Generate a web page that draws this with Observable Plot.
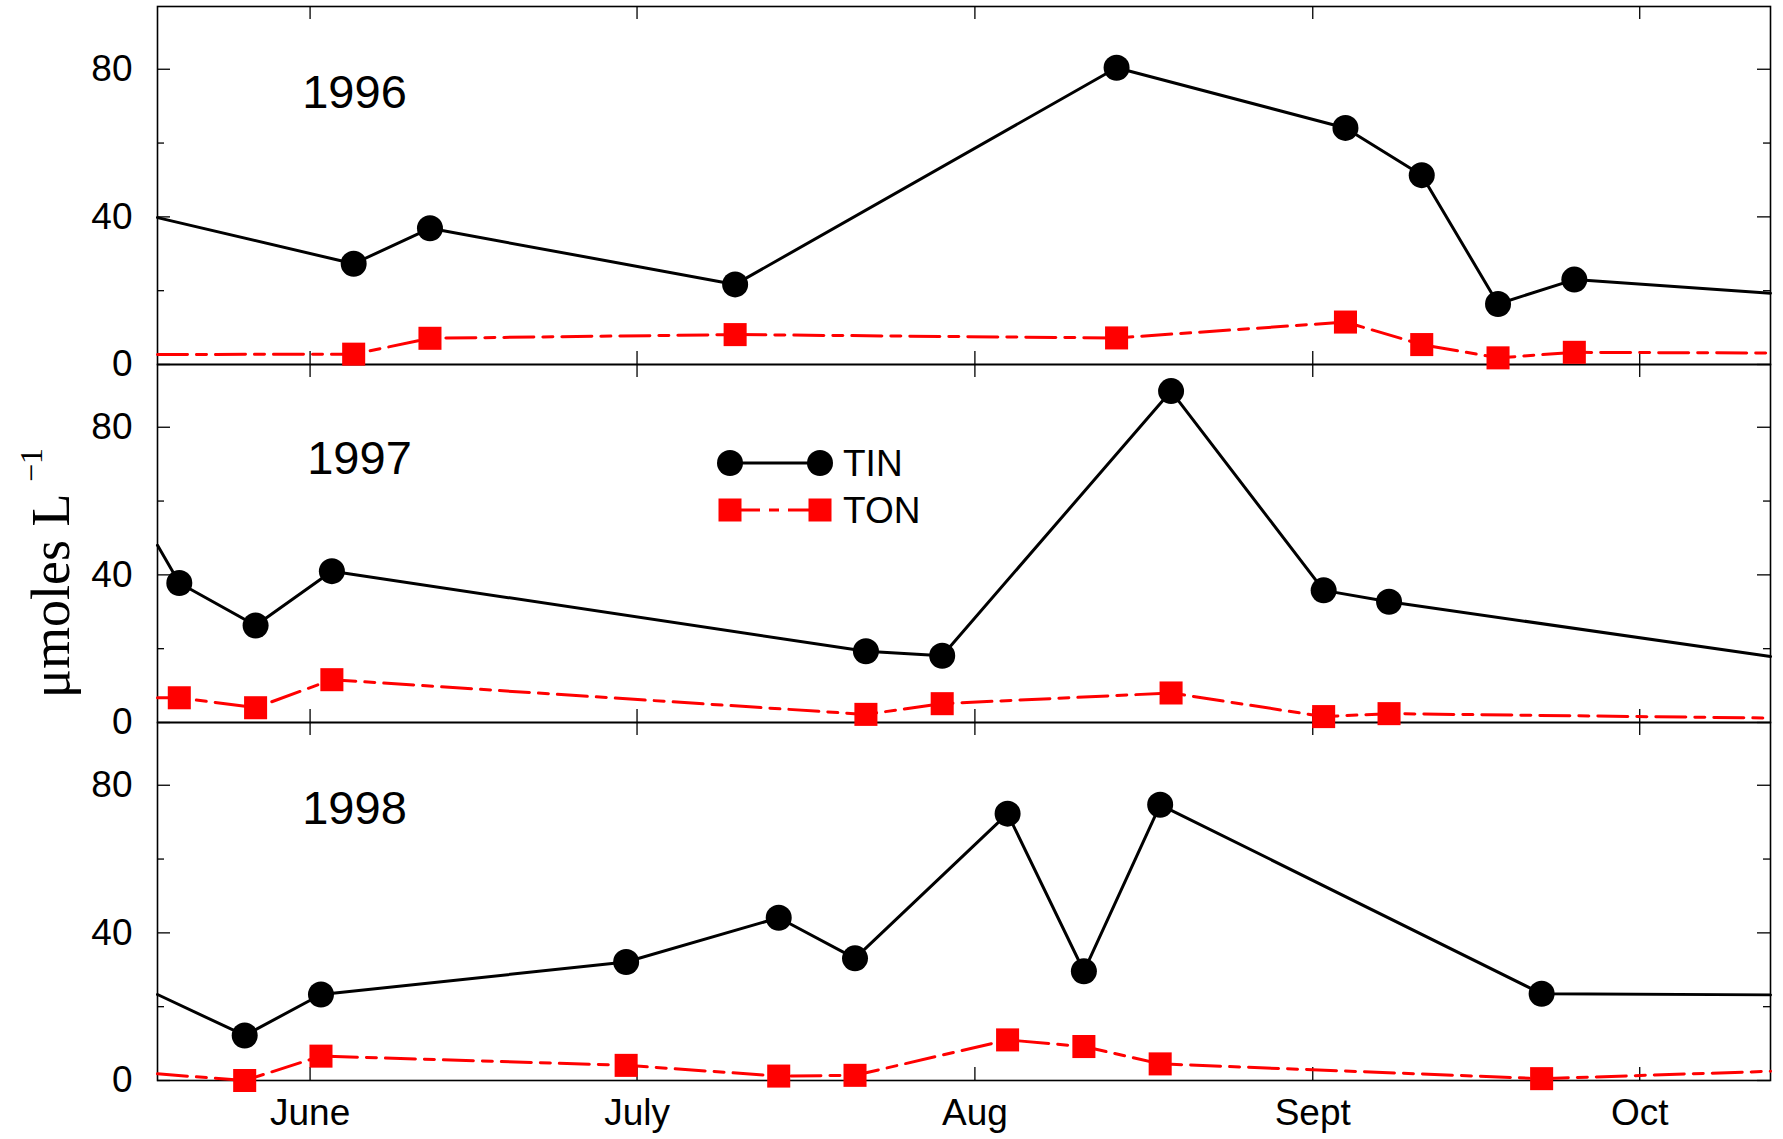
<!DOCTYPE html>
<html>
<head>
<meta charset="utf-8">
<script src="https://cdn.jsdelivr.net/npm/d3@7"></script>
<script src="https://cdn.jsdelivr.net/npm/@observablehq/plot@0.6"></script>
<style>
  body { margin: 0; background: #fff; }
  #chart { position: relative; width: 1783px; height: 1139px; }
</style>
</head>
<body>
<div id="chart"></div>
<script>
// ---------- data ----------
const years = [1996, 1997, 1998];
const monthTicks = ["06-01", "07-01", "08-01", "09-01", "10-01"];
const monthLabels = ["June", "July", "Aug", "Sept", "Oct"];
const yMajorTicks = [0, 40, 80];
const yMinorTicks = [20, 60];
const xStart = "05-18";
const xEnd = "10-13";

// 1996 (first/last entries: where the lines meet the frame edges)
const dates1996 = [xStart, "06-05", "06-12", "07-10", "08-14", "09-04", "09-11", "09-18", "09-25", xEnd];
const tin1996   = [39.8, 27.3, 36.9, 21.7, 80.4, 64.1, 51.3, 16.4, 23.0, 19.3];
const ton1996   = [2.7, 2.8, 7.1, 8.1, 7.2, 11.5, 5.4, 1.8, 3.3, 3.1];

// 1997
const dates1997 = [xStart, "05-20", "05-27", "06-03", "07-22", "07-29", "08-19", "09-02", "09-08", xEnd];
const tin1997   = [48.0, 37.8, 26.3, 41.0, 19.3, 18.1, 89.8, 35.8, 32.7, 17.9];
const ton1997   = [6.7, 6.7, 4.0, 11.6, 2.2, 5.1, 8.0, 1.6, 2.4, 1.2];

// 1998
const dates1998 = [xStart, "05-26", "06-02", "06-30", "07-14", "07-21", "08-04", "08-11", "08-18", "09-22", xEnd];
const tin1998   = [23.3, 12.2, 23.3, 32.1, 44.1, 33.1, 72.3, 29.6, 74.7, 23.5, 23.2];
const ton1998   = [1.8, 0.0, 6.6, 4.1, 1.2, 1.4, 11.0, 9.2, 4.5, 0.5, 2.5];

const seriesNames = ["TIN", "TON"];
const yTitle = "μmoles L";
const yTitleSup = "−1";

// ---------- table ----------
const parse = s => new Date(`2001-${s}T00:00:00Z`);
function rows(year, dates, tin, ton) {
  return dates.map((d, i) => ({
    year, date: parse(d), TIN: tin[i], TON: ton[i], edge: d === xStart || d === xEnd
  }));
}
const data = [
  ...rows(1996, dates1996, tin1996, ton1996),
  ...rows(1997, dates1997, tin1997, ton1997),
  ...rows(1998, dates1998, tin1998, ton1998)
];
const pts = data.filter(d => !d.edge);
const monthDates = monthTicks.map(parse);
const monthLabelMap = new Map(monthDates.map((d, i) => [d.getTime(), monthLabels[i]]));

// ---------- layout ----------
const W = 1783, H = 1139;
const mL = 157, mR = 13, mT = 6, mB = 59;
const frameW = W - mL - mR;
const panelH = (H - mT - mB) / years.length;
const majorLen = 13, minorLen = 7;
const RED = "#ff0000";
const sans = "'Liberation Sans', Arial, Helvetica, sans-serif";
const serif = "'Liberation Serif', 'Times New Roman', serif";

const tickStyle = { stroke: "black", strokeWidth: 1.3 };

const chart = Plot.plot({
  width: W,
  height: H,
  marginLeft: mL,
  marginRight: mR,
  marginTop: mT,
  marginBottom: mB,
  style: { fontFamily: sans, background: "white", color: "black" },
  x: { type: "utc", domain: [parse(xStart), parse(xEnd)] },
  y: { domain: [0, 97] },
  fy: { domain: years, padding: 0, axis: null },
  marks: [
    // inward ticks
    Plot.tickX(monthDates, { x: d => d, insetTop: panelH - majorLen, ...tickStyle }),
    Plot.tickX(monthDates, { x: d => d, insetBottom: panelH - majorLen, ...tickStyle }),
    Plot.tickY(yMajorTicks, { y: d => d, insetRight: frameW - majorLen, ...tickStyle }),
    Plot.tickY(yMajorTicks, { y: d => d, insetLeft: frameW - majorLen, ...tickStyle }),
    Plot.tickY(yMinorTicks, { y: d => d, insetRight: frameW - minorLen, ...tickStyle }),
    Plot.tickY(yMinorTicks, { y: d => d, insetLeft: frameW - minorLen, ...tickStyle }),
    Plot.frame({ stroke: "black", strokeWidth: 1.6 }),
    Plot.axisY({ ticks: yMajorTicks, tickSize: 0, tickPadding: 25, fontSize: 37, label: null }),
    Plot.axisX({
      ticks: monthDates, tickFormat: d => monthLabelMap.get(d.getTime()),
      tickSize: 0, tickPadding: 18, fontSize: 37, label: null
    }),
    // TON
    Plot.lineY(data, { x: "date", y: "TON", fy: "year", stroke: RED, strokeWidth: 3, strokeDasharray: "30,9,10,9" }),
    Plot.dot(pts, { x: "date", y: "TON", fy: "year", symbol: "square", r: 13, fill: RED }),
    // TIN
    Plot.lineY(data, { x: "date", y: "TIN", fy: "year", stroke: "black", strokeWidth: 3 }),
    Plot.dot(pts, { x: "date", y: "TIN", fy: "year", r: 13, fill: "black" }),
    // year labels
    Plot.text(years.filter(y => y !== 1997), {
      fy: d => d, text: d => String(d), frameAnchor: "top-left", dx: 197, dy: 86,
      textAnchor: "middle", lineAnchor: "middle", fontSize: 47, fill: "black"
    }),
    Plot.text(years.filter(y => y === 1997), {
      fy: d => d, text: d => String(d), frameAnchor: "top-left", dx: 202, dy: 94,
      textAnchor: "middle", lineAnchor: "middle", fontSize: 47, fill: "black"
    })
  ]
});

document.getElementById("chart").appendChild(chart);

// ---------- y title ----------
const svg = d3.select(chart);
const yl = svg.append("text")
  .attr("transform", "translate(69,573) rotate(-90)")
  .attr("text-anchor", "middle")
  .attr("font-family", serif)
  .attr("font-size", 54)
  .attr("fill", "black");
yl.append("tspan").text(yTitle + " ");
yl.append("tspan").attr("dy", -27).attr("font-size", 32).text(yTitleSup);

// ---------- legend ----------
const lg = svg.append("g");
const lx1 = 730, lx2 = 820, ly1 = 463, ly2 = 510, side = 23;
lg.append("line").attr("x1", lx1).attr("x2", lx2).attr("y1", ly1).attr("y2", ly1)
  .attr("stroke", "black").attr("stroke-width", 3);
[lx1, lx2].forEach(x => lg.append("circle").attr("cx", x).attr("cy", ly1).attr("r", 13).attr("fill", "black"));
lg.append("line").attr("x1", lx1).attr("x2", lx2).attr("y1", ly2).attr("y2", ly2)
  .attr("stroke", RED).attr("stroke-width", 3).attr("stroke-dasharray", "30,9,10,9");
[lx1, lx2].forEach(x => lg.append("rect").attr("x", x - side / 2).attr("y", ly2 - side / 2)
  .attr("width", side).attr("height", side).attr("fill", RED));
[[seriesNames[0], ly1], [seriesNames[1], ly2]].forEach(([t, y]) =>
  lg.append("text").attr("x", 843).attr("y", y).attr("dy", "0.35em")
    .attr("text-anchor", "start")
    .attr("font-family", sans).attr("font-size", 37).attr("fill", "black").text(t));
</script>
</body>
</html>
